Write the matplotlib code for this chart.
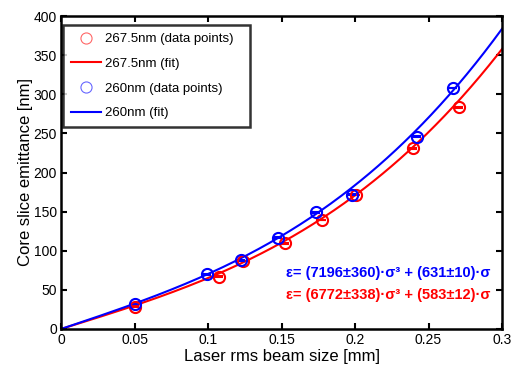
import numpy as np
import matplotlib
matplotlib.use("Agg")
import matplotlib.pyplot as plt

plt.rcParams['font.family'] = ['Liberation Sans', 'DejaVu Sans']

# data
x_red = [0.05, 0.1077, 0.1236, 0.1524, 0.1773, 0.2009, 0.2395, 0.2705]
y_red = [28.5, 66.8, 86.9, 109.5, 139.3, 171.2, 230.9, 283.3]
x_blue = [0.05, 0.0991, 0.1222, 0.1474, 0.1735, 0.1982, 0.2422, 0.2664]
y_blue = [32.0, 70.0, 88.0, 116.7, 149.0, 171.6, 246.0, 308.0]
fit_red = (6772, 583)
fit_blue = (7196, 631)
xticks = [0, 0.05, 0.1, 0.15, 0.2, 0.25, 0.3]
xticklabels = ['0', '0.05', '0.1', '0.15', '0.2', '0.25', '0.3']
yticks = [0, 50, 100, 150, 200, 250, 300, 350, 400]

fig = plt.figure(figsize=(5.13, 3.66), dpi=100)
ax = fig.add_axes([61/513, 37/366, 441/513, 313/366])

s = np.linspace(0, 0.3, 300)
red = '#ff0000'
blue = '#0000ff'

ax.plot(x_red, y_red, 'o', mfc='none', mec=red, ms=8, mew=0.8, alpha=0.6,
        label='267.5nm (data points)', zorder=1)
ax.plot(s, fit_red[0]*s**3 + fit_red[1]*s, color=red, lw=1.5, label='267.5nm (fit)')
ax.plot(x_blue, y_blue, 'o', mfc='none', mec=blue, ms=8, mew=0.8, alpha=0.6,
        label='260nm (data points)', zorder=1)
ax.plot(s, fit_blue[0]*s**3 + fit_blue[1]*s, color=blue, lw=1.5, label='260nm (fit)')

# visible markers with tiny error bars
for xs, ys, c in [(x_red, y_red, red), (x_blue, y_blue, blue)]:
    ax.errorbar(xs, ys, yerr=0.5, fmt='o', mfc='none', mec=c, ms=8, mew=1.5,
                ecolor=c, elinewidth=1.2, capsize=3, capthick=1.2, zorder=3)

ax.set_xlim(0, 0.3)
ax.set_ylim(0, 400)
ax.set_xticks(xticks)
ax.set_xticklabels(xticklabels)
ax.set_yticks(yticks)
ax.tick_params(direction='in', length=4, width=1.5, labelsize=10, top=True, right=True,
               labeltop=False, labelright=False, pad=3)
for sp in ax.spines.values():
    sp.set_linewidth(1.8)

ax.set_xlabel('Laser rms beam size [mm]', fontsize=12, labelpad=1)
ax.set_ylabel('Core slice emittance [nm]', fontsize=12, labelpad=0)

leg = ax.legend(loc='upper left', fontsize=9.5, frameon=True, fancybox=False,
                edgecolor='black', borderaxespad=0,
                bbox_to_anchor=(2/441, 0, 187/441, 1 - 9/313), mode='expand',
                handlelength=2.3, handletextpad=0.3, borderpad=0.6, labelspacing=0.95)
leg.get_frame().set_linewidth(1.8)

ax.text(0.2918, 71.6, 'ε= (7196±360)·σ\u00b3 + (631±10)·σ',
        color=blue, fontsize=10.5, fontweight='bold', ha='right', va='center')
ax.text(0.2918, 43.5, 'ε= (6772±338)·σ\u00b3 + (583±12)·σ',
        color=red, fontsize=10.5, fontweight='bold', ha='right', va='center')

fig.savefig('out.png', dpi=100)
